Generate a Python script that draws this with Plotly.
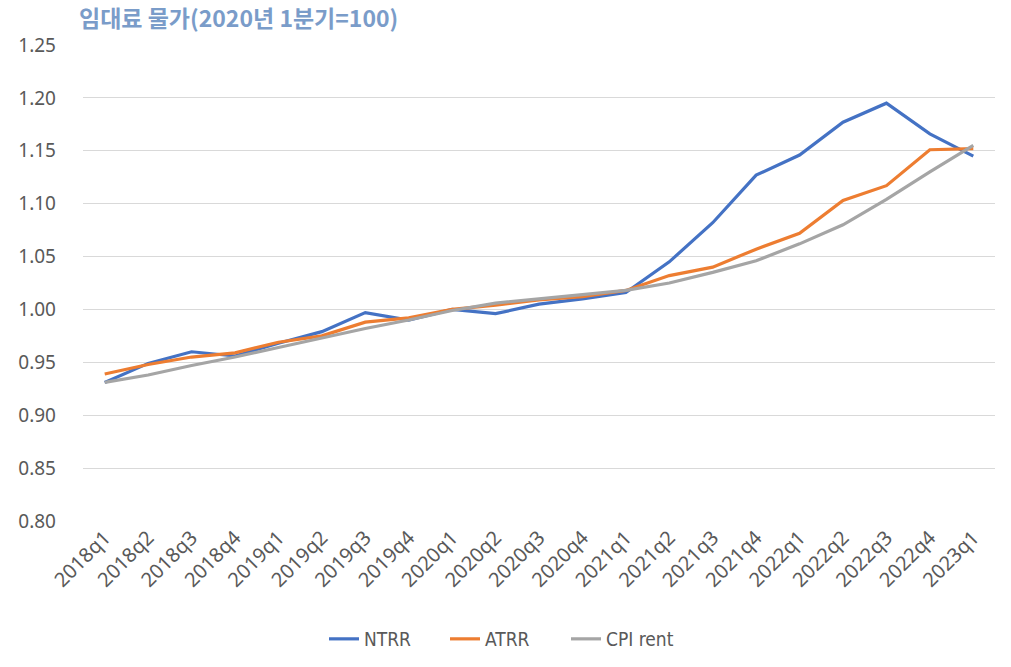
import plotly.graph_objects as go

quarters = ["2018q1","2018q2","2018q3","2018q4","2019q1","2019q2","2019q3","2019q4",
            "2020q1","2020q2","2020q3","2020q4","2021q1","2021q2","2021q3","2021q4",
            "2022q1","2022q2","2022q3","2022q4","2023q1"]
ntrr = [0.931,0.949,0.960,0.956,0.968,0.979,0.997,0.990,1.000,0.996,1.005,1.010,1.016,
        1.045,1.082,1.127,1.146,1.177,1.195,1.166,1.145]
atrr = [0.939,0.948,0.955,0.959,0.969,0.975,0.988,0.992,1.000,1.004,1.009,1.012,1.018,
        1.032,1.040,1.057,1.072,1.103,1.117,1.151,1.152]
cpirent = [0.931,0.938,0.947,0.955,0.964,0.973,0.982,0.990,0.999,1.006,1.010,1.014,1.018,
           1.025,1.035,1.046,1.062,1.080,1.104,1.130,1.155]

series = [("NTRR", ntrr, "#4472c4"), ("ATRR", atrr, "#ed7d31"), ("CPI rent", cpirent, "#a5a5a5")]

fig = go.Figure()
for name, vals, col in series:
    fig.add_trace(go.Scatter(x=quarters, y=vals, name=name, mode="lines",
                             line=dict(color=col, width=3.2)))

fig.update_layout(
    width=1011, height=667,
    margin=dict(l=83, r=16, t=45, b=146),
    paper_bgcolor="white", plot_bgcolor="white",
    font=dict(family="Noto Sans, Open Sans, sans-serif", color="#595959"),
    title=dict(text="<b>임대료 물가(2020년 1분기=100)</b>",
               font=dict(family="Noto Sans CJK KR", size=23, color="#7a9cc9"),
               x=79/1011, xanchor="left", xref="container",
               y=1-19/667, yanchor="middle", yref="container"),
    showlegend=True,
    legend=dict(orientation="h", x=0.5, xanchor="center", xref="container",
                y=(667-639)/667, yanchor="middle", yref="container",
                font=dict(family="DejaVu Sans Condensed, Noto Sans", size=19, color="#595959"),
                entrywidth=76, entrywidthmode="pixels", tracegroupgap=0),
)
fig.update_xaxes(type="category", range=[-0.5, 20.5], tickangle=-45,
                 tickfont=dict(size=20, color="#595959"),
                 showgrid=False, showline=False, ticks="", zeroline=False)
fig.update_yaxes(range=[0.8, 1.25], dtick=0.05, tick0=0.8, tickformat=".2f",
                 tickfont=dict(size=19, color="#595959"),
                 showgrid=True, gridcolor="#d9d9d9", gridwidth=1.3,
                 showline=False, zeroline=False, ticklabelstandoff=26)

fig.write_html("out.html", config={"displayModeBar": False})
with open("out.html", encoding="utf-8") as f:
    html = f.read()
html = html.replace("<body>", '<body style="margin:0;padding:0;overflow:hidden">', 1)
with open("out.html", "w", encoding="utf-8") as f:
    f.write(html)
